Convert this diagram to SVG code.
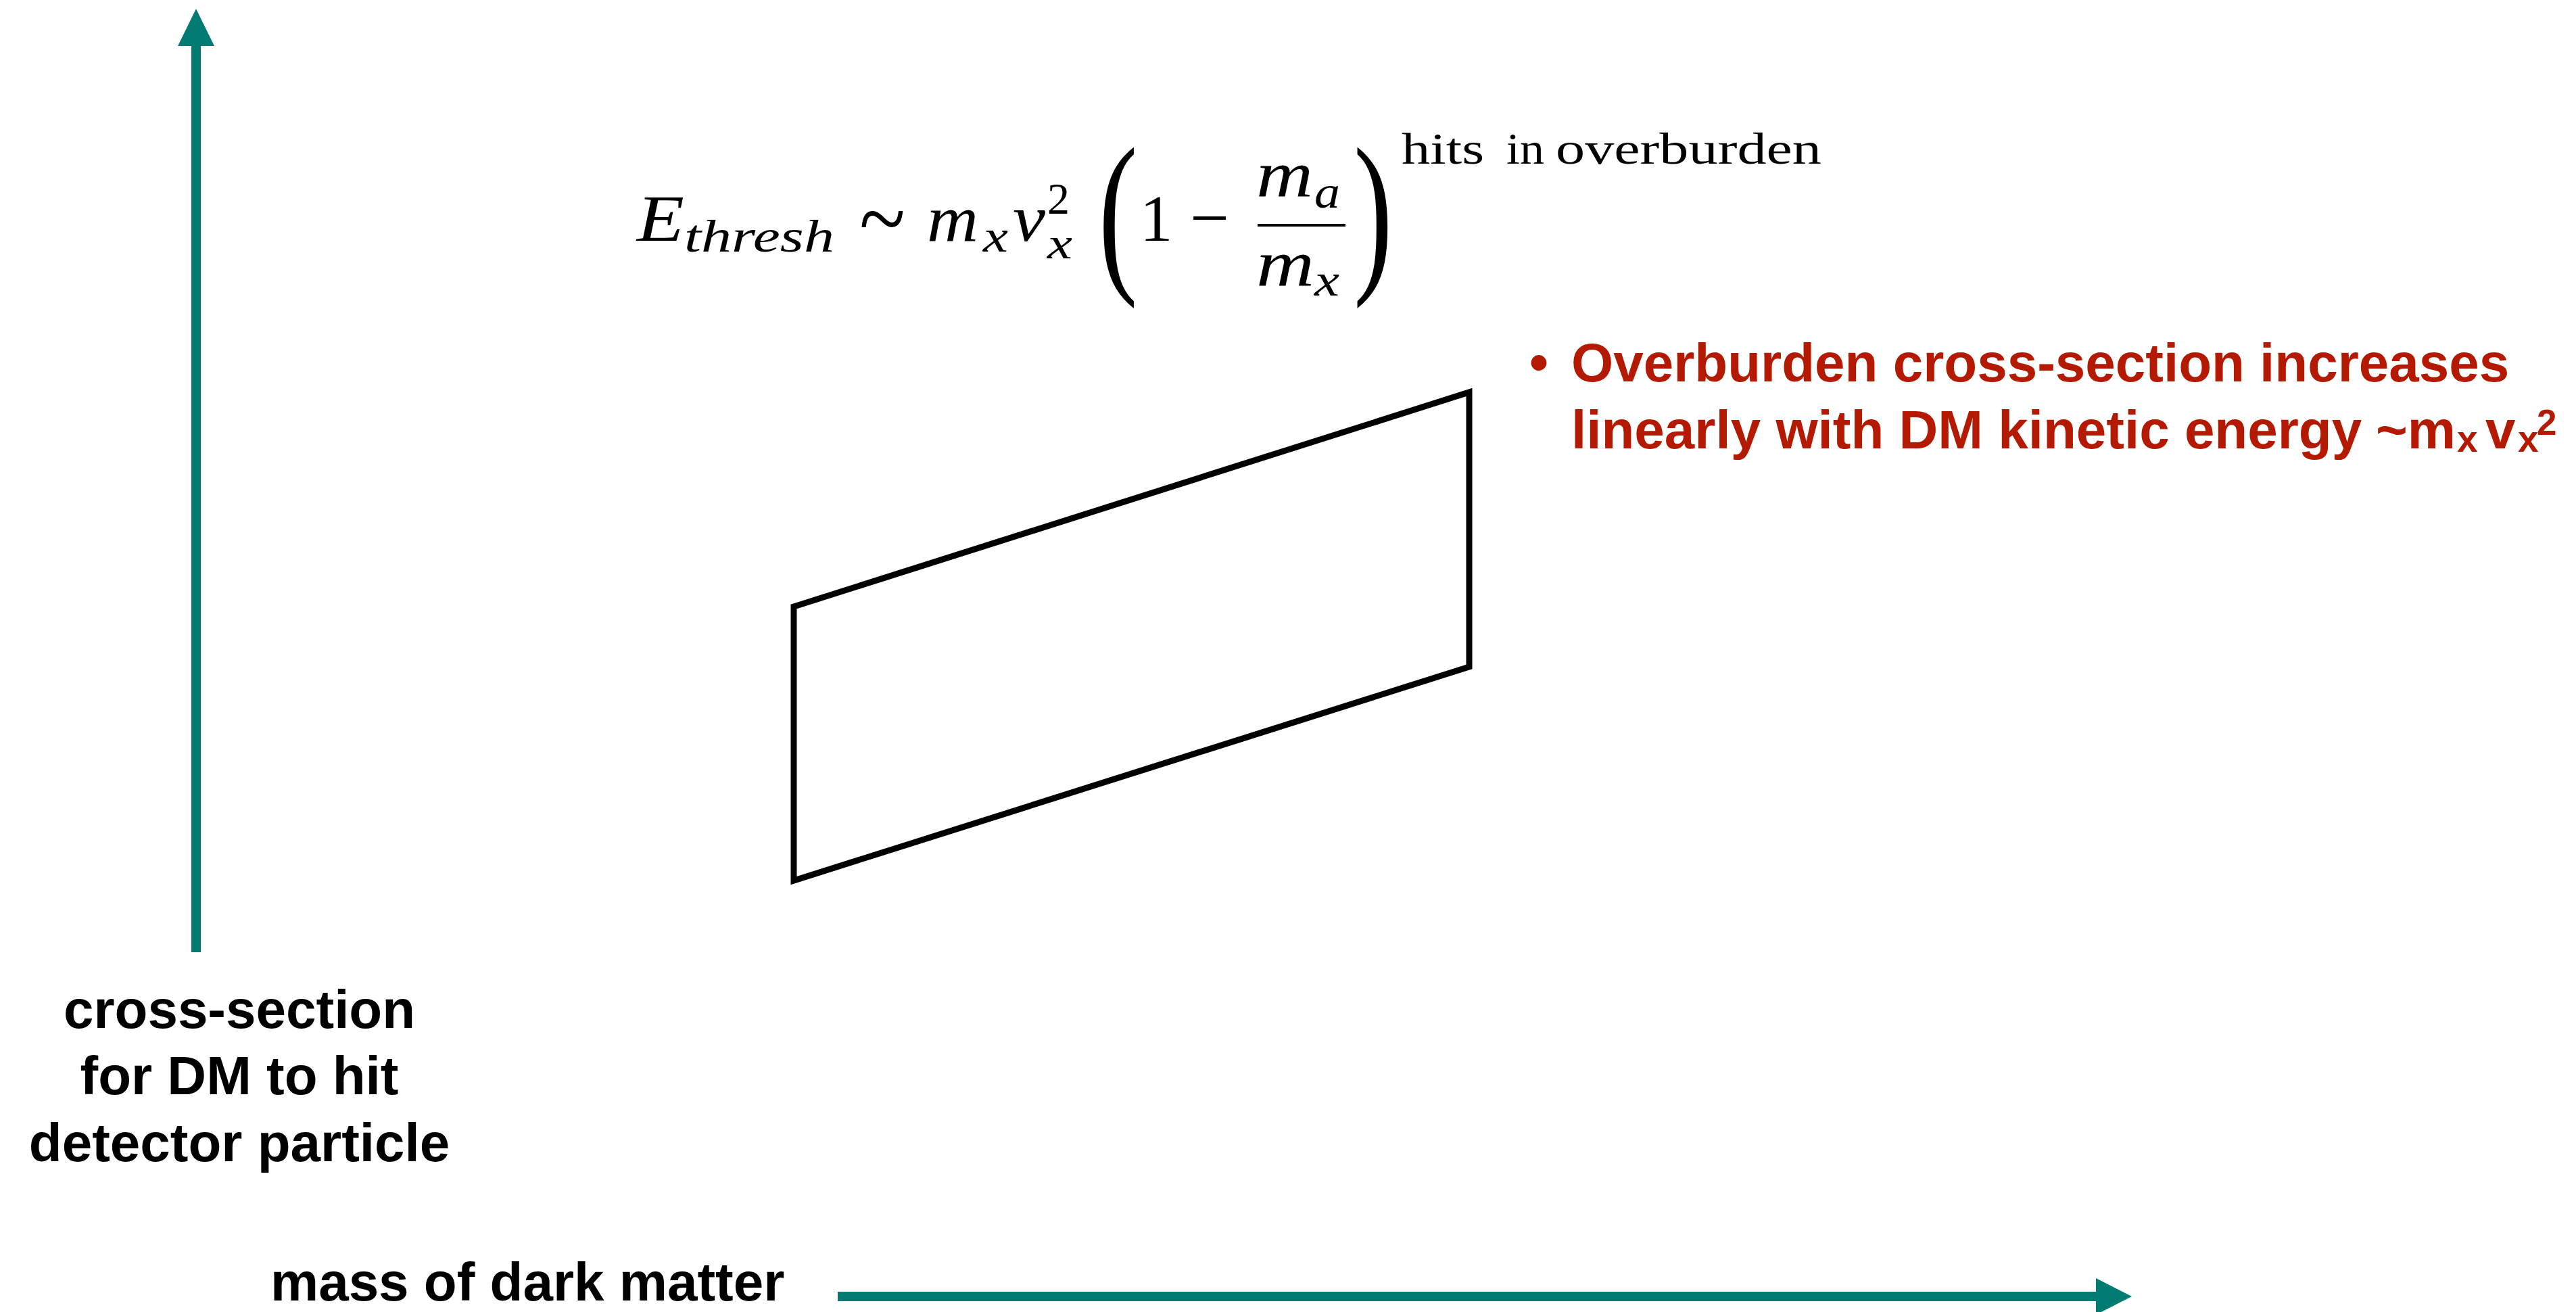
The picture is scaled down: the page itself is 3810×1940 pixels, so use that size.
<svg xmlns="http://www.w3.org/2000/svg" width="3810" height="1940" viewBox="0 0 3810 1940">
<style>
.lbl{font-family:"Liberation Sans",Arial,sans-serif;font-weight:bold;font-size:80px;fill:#000}
.red{font-family:"Liberation Sans",Arial,sans-serif;font-weight:bold;font-size:80px;fill:#b41a02}
.mi{font-family:"Liberation Serif","Times New Roman",serif;font-style:italic;fill:#000}
.mr{font-family:"Liberation Serif","Times New Roman",serif;fill:#000}
.axis{stroke:#027b72;stroke-width:14;fill:none}
.head{fill:#027b72}
</style>
<rect width="3810" height="1940" fill="#fff"/>
<g id="connectors">
  <g id="y-axis">
    <line class="axis" x1="290" y1="1408" x2="290" y2="66"/>
    <polygon class="head" points="263,68 317,68 290,13"/>
  </g>
  <g id="x-axis">
    <line class="axis" x1="1239" y1="1917" x2="3102" y2="1917"/>
    <polygon class="head" points="3100,1890 3100,1944 3153,1917"/>
  </g>
</g>
<g id="parallelogram">
  <polygon points="1174,897 2173,580 2173,986 1174,1302" fill="none" stroke="#000" stroke-width="9" stroke-linejoin="miter"/>
</g>
<g id="formula">
  <text class="mi" x="942" y="356" font-size="97" textLength="70" lengthAdjust="spacingAndGlyphs">E</text>
  <text class="mi" x="1012" y="372" font-size="68" textLength="222" lengthAdjust="spacingAndGlyphs">thresh</text>
  <text class="mr" x="1271" y="370" font-size="140" textLength="68" lengthAdjust="spacingAndGlyphs">~</text>
  <text class="mi" x="1371" y="356" font-size="97" textLength="76" lengthAdjust="spacingAndGlyphs">m</text>
  <text class="mi" x="1454" y="372" font-size="68" textLength="37" lengthAdjust="spacingAndGlyphs">x</text>
  <text class="mi" x="1498" y="356" font-size="97" textLength="48" lengthAdjust="spacingAndGlyphs">v</text>
  <text class="mr" x="1549" y="316" font-size="66">2</text>
  <text class="mi" x="1549" y="382" font-size="66" textLength="37" lengthAdjust="spacingAndGlyphs">x</text>
  <text class="mr" x="-12.6" y="0" font-size="263" transform="translate(1633,400) scale(0.66,1)">(</text>
  <text class="mr" x="1686" y="356" font-size="97">1</text>
  <text class="mr" x="1760" y="356" font-size="100" textLength="58" lengthAdjust="spacingAndGlyphs">−</text>
  <text class="mi" x="1858" y="290" font-size="97" textLength="84" lengthAdjust="spacingAndGlyphs">m</text>
  <text class="mi" x="1944" y="307" font-size="68" textLength="38" lengthAdjust="spacingAndGlyphs">a</text>
  <line x1="1860" y1="333" x2="1990" y2="333" stroke="#000" stroke-width="4"/>
  <text class="mi" x="1858" y="422" font-size="97" textLength="86" lengthAdjust="spacingAndGlyphs">m</text>
  <text class="mi" x="1944" y="437" font-size="68" textLength="37" lengthAdjust="spacingAndGlyphs">x</text>
  <text class="mr" x="-7.6" y="0" font-size="263" transform="translate(2007,400) scale(0.66,1)">)</text>
  <text class="mr" x="2073" y="242" font-size="65" textLength="122" lengthAdjust="spacingAndGlyphs">hits</text>
  <text class="mr" x="2228" y="242" font-size="65" textLength="56" lengthAdjust="spacingAndGlyphs">in</text>
  <text class="mr" x="2301" y="242" font-size="65" textLength="393" lengthAdjust="spacingAndGlyphs">overburden</text>
</g>
<g id="note">
  <text class="red" x="2262" y="563" font-size="90">•</text>
  <text class="red" x="2324" y="564">Overburden cross-section increases</text>
  <text class="red" y="663"><tspan x="2324">linearly with DM kinetic energy</tspan><tspan x="3514">~m</tspan><tspan x="3634" y="668" font-size="55">x</tspan><tspan x="3676" y="663">v</tspan><tspan x="3724" y="668" font-size="55">x</tspan><tspan x="3752" y="643" font-size="53">2</tspan></text>
</g>
<g id="y-label">
  <text class="lbl" x="354" y="1520" text-anchor="middle">cross-section</text>
  <text class="lbl" x="354" y="1618" text-anchor="middle">for DM to hit</text>
  <text class="lbl" x="354" y="1717" text-anchor="middle">detector particle</text>
</g>
<g id="x-label">
  <text class="lbl" x="400" y="1923">mass of dark matter</text>
</g>
</svg>
